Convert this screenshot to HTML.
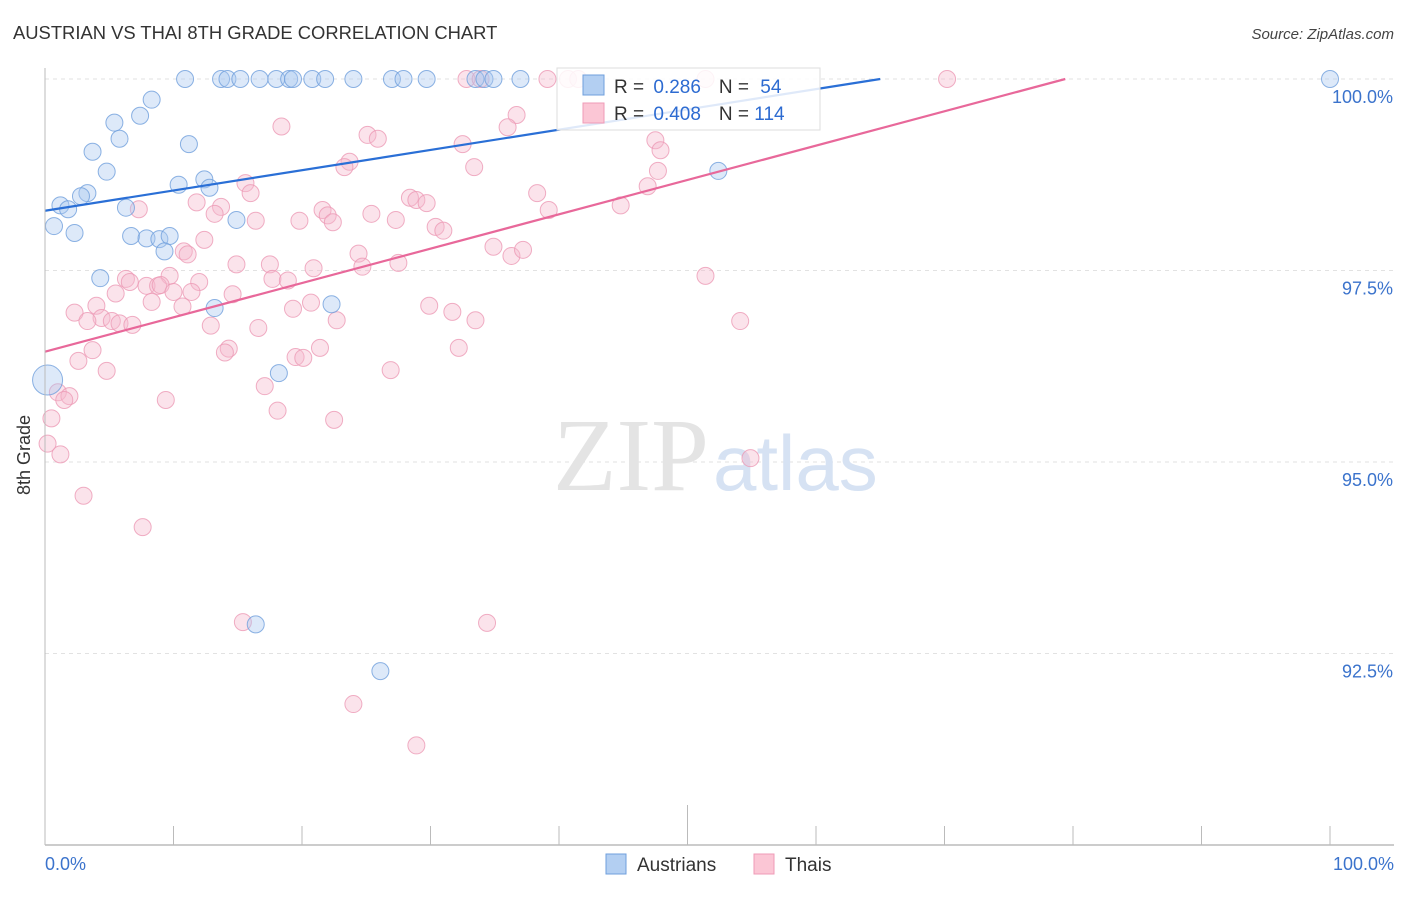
<!DOCTYPE html>
<html><head><meta charset="utf-8"><style>
body{margin:0;background:#fff;font-family:"Liberation Sans",sans-serif;}
svg text{font-family:"Liberation Sans",sans-serif;}
</style></head><body>
<svg id="chart" width="1406" height="892" xmlns="http://www.w3.org/2000/svg">
<text x="13" y="39" font-size="18.4" fill="#333">AUSTRIAN VS THAI 8TH GRADE CORRELATION CHART</text>
<text x="1394" y="39" font-size="15" fill="#444" text-anchor="end" font-style="italic">Source: ZipAtlas.com</text>
<text x="30" y="455" font-size="18" fill="#333" transform="rotate(-90 30 455)" text-anchor="middle">8th Grade</text>
<g id="grid"></g>
<text x="553" y="490" font-size="104" fill="#e4e4e4"><tspan font-family="Liberation Serif">ZIP</tspan><tspan fill="#d6e2f3" font-family="Liberation Sans" font-size="78" dx="4">atlas</tspan></text>
<g id="pts"></g>
<g id="lines"></g>
<g id="axes"></g>
<g>
<rect x="557" y="68" width="263" height="62" fill="#fff" fill-opacity="0.85" stroke="#ddd"/>
<rect x="583" y="75" width="21" height="20" fill="#b3cff2" stroke="#6f9fdc"/>
<rect x="583" y="103" width="21" height="20" fill="#fbc6d5" stroke="#ef9bb7"/>
<text x="614" y="93" font-size="19" fill="#333">R = <tspan fill="#2d6bd1" dx="4">0.286</tspan><tspan fill="#333" dx="18">N = </tspan><tspan fill="#2d6bd1" dx="6">54</tspan></text>
<text x="614" y="120" font-size="19" fill="#333">R = <tspan fill="#2d6bd1" dx="4">0.408</tspan><tspan fill="#333" dx="18">N = </tspan><tspan fill="#2d6bd1">114</tspan></text>
</g>
<g>
<rect x="606" y="854" width="20" height="20" fill="#b3cff2" stroke="#6f9fdc"/>
<text x="637" y="871" font-size="19" fill="#333">Austrians</text>
<rect x="754" y="854" width="20" height="20" fill="#fbc6d5" stroke="#ef9bb7"/>
<text x="785" y="871" font-size="19" fill="#333">Thais</text>
</g>
</svg>
<script>
const yTicks=[100,97.5,95,92.5];
const yTickLabels=["100.0%","97.5%","95.0%","92.5%"];
const xTickLabels=["0.0%","100.0%"];
const austriansX=[10.9,13.7,14.2,15.2,16.7,18.0,19.0,19.3,20.8,21.8,24.0,27.0,27.9,29.7,33.5,34.2,34.9,37.0,100,8.3,7.4,5.4,5.8,11.2,3.7,4.8,52.4,10.4,12.4,12.8,3.3,2.8,1.2,1.8,6.3,14.9,0.7,2.3,6.7,7.9,8.9,9.7,9.3,4.3,13.2,22.3,18.2,0.2,16.4,26.1];
const austriansY=[100,100,100,100,100,100,100,100,100,100,100,100,100,100,100,100,100,100,100,99.73,99.52,99.43,99.22,99.15,99.05,98.79,98.80,98.62,98.69,98.58,98.51,98.47,98.35,98.30,98.32,98.16,98.08,97.99,97.95,97.92,97.91,97.95,97.75,97.40,97.01,97.06,96.16,96.07,92.88,92.27];
const thaisX=[32.8,33.9,39.1,40.7,41.5,70.2,51.4,36.7,36.0,18.4,25.1,25.9,32.5,47.5,47.9,23.7,23.3,33.4,47.7,46.9,38.3,15.6,16.0,11.8,13.7,13.2,7.3,28.4,28.9,29.7,21.6,22.0,22.4,19.8,16.4,25.4,27.3,30.4,31.0,39.2,44.8,12.4,10.8,11.1,24.4,24.7,27.5,34.9,36.3,37.2,14.9,17.5,20.9,6.3,6.6,9.7,17.7,18.9,7.9,8.8,9.0,12.0,10.0,5.5,11.4,14.6,8.3,10.7,4.0,20.7,19.3,29.9,31.7,51.4,2.3,4.4,3.3,5.2,5.8,6.8,12.9,16.6,22.7,33.5,54.1,14.3,14.0,3.7,21.4,32.2,19.5,20.1,2.6,4.8,26.9,17.1,1.0,1.9,1.5,9.4,18.1,0.5,22.5,0.2,1.2,54.9,3.0,7.6,15.4,34.4,24.0,28.9];
const thaisY=[100,100,100,100,100,100,100,99.53,99.37,99.38,99.27,99.22,99.15,99.20,99.07,98.92,98.85,98.85,98.80,98.60,98.51,98.64,98.51,98.39,98.33,98.24,98.30,98.45,98.42,98.38,98.29,98.22,98.13,98.15,98.15,98.24,98.16,98.07,98.02,98.29,98.35,97.90,97.75,97.71,97.72,97.55,97.60,97.81,97.69,97.77,97.58,97.58,97.53,97.39,97.35,97.43,97.39,97.37,97.30,97.30,97.31,97.35,97.22,97.20,97.22,97.19,97.09,97.03,97.04,97.08,97.00,97.04,96.96,97.43,96.95,96.88,96.84,96.84,96.81,96.79,96.78,96.75,96.85,96.85,96.84,96.48,96.43,96.46,96.49,96.49,96.37,96.36,96.32,96.19,96.20,95.99,95.91,95.86,95.81,95.81,95.67,95.57,95.55,95.24,95.10,95.05,94.56,94.15,92.91,92.90,91.84,91.30];
const blueLine=[[0,98.28],[65,100]];
const pinkLine=[[0,96.44],[79.4,100]];
const x0=45,x1=1330,yTop=79,pxPerPct=76.6;
function xs(v){return x0+(x1-x0)*v/100;}
function ys(v){return yTop+(100-v)*pxPerPct;}
const NS="http://www.w3.org/2000/svg";
function mk(tag,attrs,parent){const e=document.createElementNS(NS,tag);for(const k in attrs)e.setAttribute(k,attrs[k]);parent.appendChild(e);return e;}
const grid=document.getElementById('grid'),axes=document.getElementById('axes'),pts=document.getElementById('pts'),lines=document.getElementById('lines');
yTicks.forEach((t,i)=>{
 const l=mk('line',{x1:45,x2:1394,y1:ys(t),y2:ys(t),stroke:'#e2e2e2','stroke-dasharray':'4,4'},grid);
 
 
 const tx=mk('text',{x:1393,y:ys(t)+24,'font-size':18,fill:'#3b73cc','text-anchor':'end'},axes);
 tx.textContent=yTickLabels[i];
 
 
});
const ya=mk('line',{x1:45,x2:45,y1:68,y2:845,stroke:'#bbb'},axes);


const xa=mk('line',{x1:45,x2:1394,y1:845,y2:845,stroke:'#bbb','stroke-width':1.5},axes);


for(let i=0;i<=10;i++){
 const tk=mk('line',{x1:xs(i*10),x2:xs(i*10),y1:i==5?805:826,y2:845,stroke:'#bbb'},axes);
 
 
}
const xl0=mk('text',{x:45,y:870,'font-size':18,fill:'#3b73cc'},axes);xl0.textContent=xTickLabels[0];


const xl1=mk('text',{x:1394,y:870,'font-size':18,fill:'#3b73cc','text-anchor':'end'},axes);xl1.textContent=xTickLabels[1];


thaisX.forEach((x,i)=>{
 const c=mk('circle',{cx:xs(x),cy:ys(thaisY[i]),r:8.5,fill:'#f6b9cc','fill-opacity':0.4,stroke:'#ec9ab5','stroke-opacity':0.8},pts);
 
 
});
austriansX.forEach((x,i)=>{
 const c=mk('circle',{cx:xs(x),cy:ys(austriansY[i]),r:i==austriansX.length-3?15:8.5,fill:'#a9c8ef','fill-opacity':0.4,stroke:'#6f9fdc','stroke-opacity':0.8},pts);
 
 
});
const bl=mk('line',{x1:xs(blueLine[0][0]),y1:ys(blueLine[0][1]),x2:xs(blueLine[1][0]),y2:ys(blueLine[1][1]),stroke:'#2a6fd6','stroke-width':2.2},lines);


const pl=mk('line',{x1:xs(pinkLine[0][0]),y1:ys(pinkLine[0][1]),x2:xs(pinkLine[1][0]),y2:ys(pinkLine[1][1]),stroke:'#e8689a','stroke-width':2.2},lines);


</script>
</body></html>
